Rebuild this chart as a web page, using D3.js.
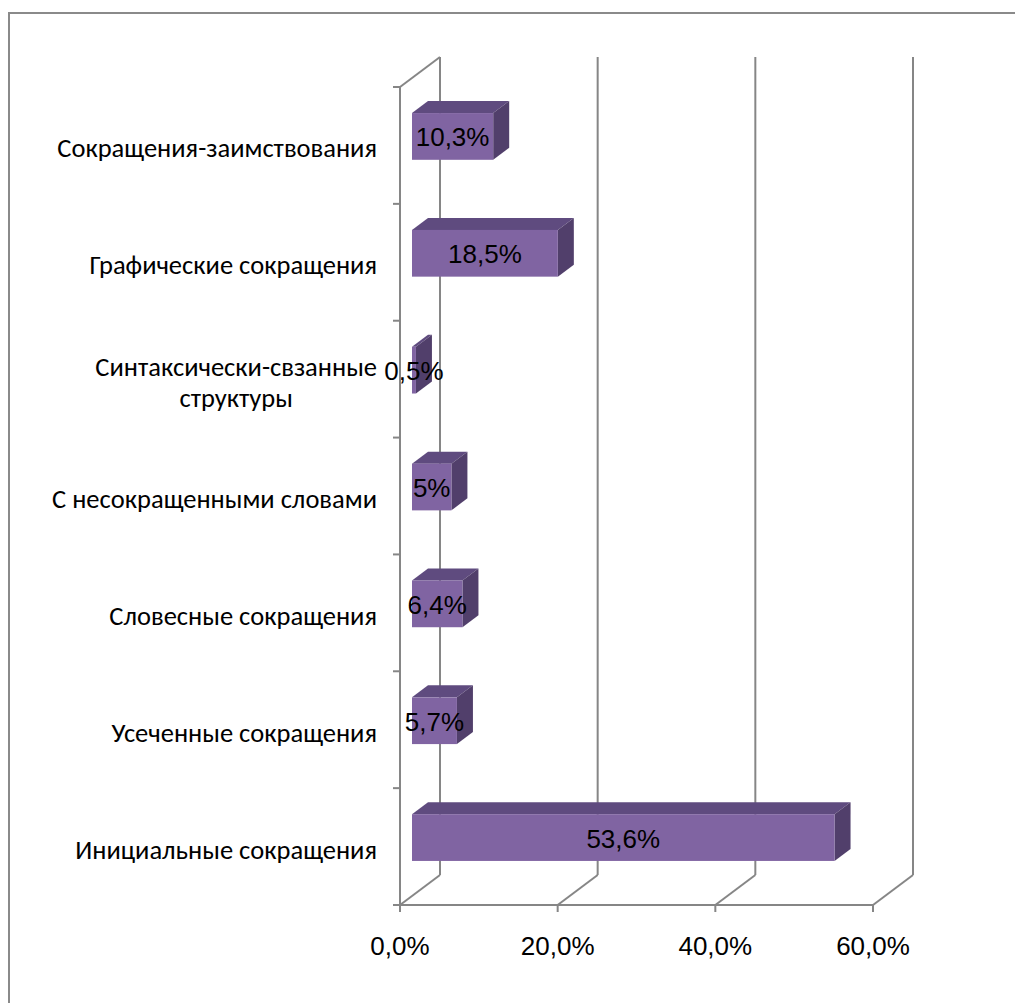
<!DOCTYPE html>
<html><head><meta charset="utf-8">
<script src="https://cdn.jsdelivr.net/npm/d3@7"></script>
<style>html,body{margin:0;padding:0;background:#fff;}</style>
</head><body>
<svg id="chart" width="1015" height="1003"></svg>
<script>
const categories = ["Сокращения-заимствования","Графические сокращения","Синтаксически-свзанные структуры","С несокращенными словами","Словесные сокращения","Усеченные сокращения","Инициальные сокращения"];
const values = [0.103, 0.185, 0.005, 0.05, 0.064, 0.057, 0.536];
const valueLabels = ["10,3%","18,5%","0,5%","5%","6,4%","5,7%","53,6%"];
const xTicks = [0, 0.2, 0.4, 0.6];
const xTickLabels = ["0,0%","20,0%","40,0%","60,0%"];
const wrapLines = {"Синтаксически-свзанные структуры":["Синтаксически-свзанные","структуры"]};

const svg = d3.select("#chart");
const gray = "#868686";
const depth = {dx: 40, dy: -30};
const x = d3.scaleLinear().domain([0, 0.6]).range([400, 873]);
const y = d3.scaleBand().domain(categories).range([87, 905]).paddingInner(0.6).paddingOuter(0.3);
const top0 = 87, bot0 = 905, x0 = x(0);

// outer border
svg.append("path").attr("d","M9,1003 V13 H1015").attr("fill","none").attr("stroke","#8a8a8a").attr("stroke-width",2);

const grid = svg.append("g").attr("stroke", gray).attr("stroke-width", 2).attr("fill","none");
grid.append("line").attr("x1", x0+depth.dx).attr("x2", x0+depth.dx).attr("y1", top0+depth.dy).attr("y2", bot0+depth.dy);
grid.append("line").attr("x1", x0).attr("y1", top0).attr("x2", x0+depth.dx).attr("y2", top0+depth.dy);
xTicks.forEach((t,i) => {
  if (i > 0) grid.append("line").attr("x1", x(t)+depth.dx).attr("x2", x(t)+depth.dx).attr("y1", top0+depth.dy).attr("y2", bot0+depth.dy);
  grid.append("line").attr("x1", x(t)).attr("y1", bot0).attr("x2", x(t)+depth.dx).attr("y2", bot0+depth.dy);
});

// bars
const zf = 0.3, zb = 0.7;
const fdx = depth.dx*zf, fdy = depth.dy*zf;
const sdx = depth.dx*(zb-zf), sdy = depth.dy*(zb-zf);
const bars = svg.append("g");
categories.forEach((c,i) => {
  const xa = x(0)+fdx, xb = x(values[i])+fdx;
  const ya = y(c)+fdy, yb = y(c)+y.bandwidth()+fdy;
  bars.append("path").attr("d", `M${xa},${ya} L${xa+sdx},${ya+sdy} L${xb+sdx},${ya+sdy} L${xb},${ya} Z`).attr("fill","#5f4b7f");
  bars.append("path").attr("d", `M${xb},${ya} L${xb+sdx},${ya+sdy} L${xb+sdx},${yb+sdy} L${xb},${yb} Z`).attr("fill","#513f6b");
  bars.append("rect").attr("x", xa).attr("y", ya).attr("width", xb-xa).attr("height", yb-ya).attr("fill","#8064a2");
  bars.append("text").attr("x", (xa+xb)/2).attr("y", (ya+yb)/2+10).attr("text-anchor","middle")
    .attr("font-family","'Liberation Sans', Arial, sans-serif").attr("font-size",26).attr("fill","#000").text(valueLabels[i]);
});

// front axes
const ax = svg.append("g").attr("stroke", gray).attr("stroke-width", 2).attr("fill","none");
ax.append("line").attr("x1", x0).attr("x2", x0).attr("y1", top0).attr("y2", bot0+1);
ax.append("line").attr("x1", x0-1).attr("x2", x(0.6)+1).attr("y1", bot0).attr("y2", bot0);
const stepY = y.step();
for (let k = 0; k <= categories.length; k++) {
  const yy = top0 + k*stepY;
  ax.append("line").attr("x1", x0-7).attr("x2", x0).attr("y1", yy).attr("y2", yy);
}
xTicks.forEach(t => ax.append("line").attr("x1", x(t)).attr("x2", x(t)).attr("y1", bot0).attr("y2", bot0+7));

// x tick labels
svg.append("g").selectAll("text").data(xTicks).join("text")
  .attr("x", d => x(d)).attr("y", 955).attr("text-anchor","middle")
  .attr("font-family","'Liberation Sans', Arial, sans-serif").attr("font-size",26).attr("fill","#000")
  .text((d,i) => xTickLabels[i]);

// category labels
const lab = svg.append("g").attr("font-family","Carlito, Calibri, Lato, sans-serif").attr("font-size",26.5).attr("fill","#000");
categories.forEach(c => {
  const cy = y(c) + y.bandwidth()/2;
  const lines = wrapLines[c] || [c];
  const lh = 31;
  const texts = lines.map((ln,j) => lab.append("text").attr("text-anchor","middle")
    .attr("x", 0).attr("y", cy + 11 + (j - (lines.length-1)/2)*lh + 1).text(ln));
  let maxW = 0;
  texts.forEach(t => { maxW = Math.max(maxW, t.node().getComputedTextLength()); });
  texts.forEach(t => t.attr("x", 377 - maxW/2));
});
</script>
</body></html>
